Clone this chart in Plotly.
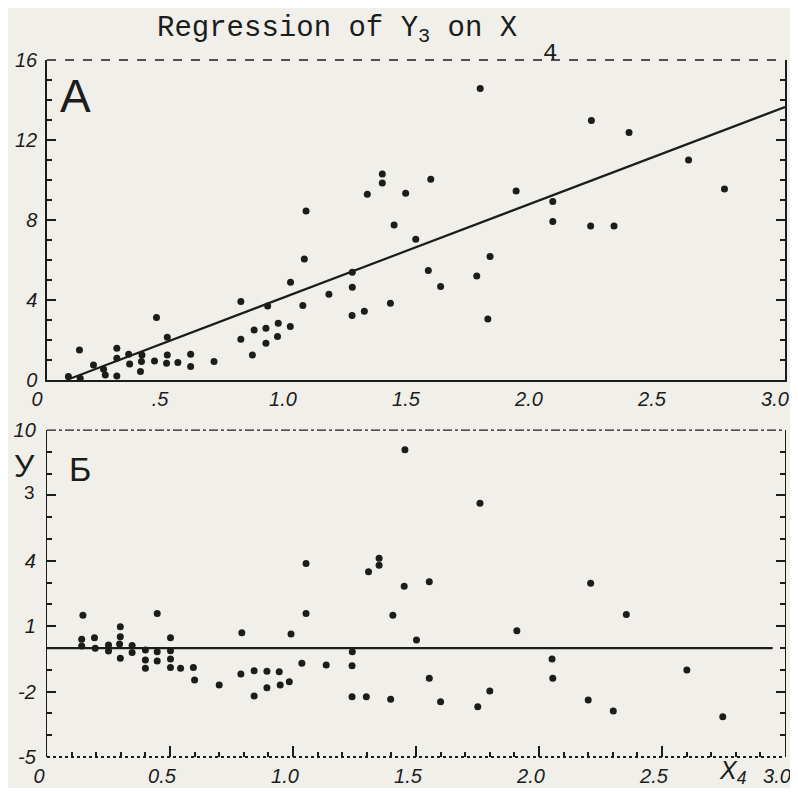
import plotly.graph_objects as go

# ---------------- data ----------------
# Panel A: Y3 vs X4 with regression line
top_x = [0.087, 0.135, 0.132, 0.189, 0.23, 0.237, 0.284, 0.284, 0.284, 0.332,
         0.336, 0.386, 0.384, 0.38, 0.437, 0.445, 0.489, 0.489, 0.486, 0.532,
         0.584, 0.584, 0.679, 0.788, 0.788, 0.835, 0.842, 0.89, 0.89, 0.897,
         0.94, 0.937, 0.989, 0.99, 1.04, 1.046, 1.053, 1.146, 1.241, 1.241,
         1.24, 1.29, 1.396, 1.302, 1.363, 1.363, 1.411, 1.458, 1.56, 1.499,
         1.55, 1.6, 1.747, 1.801, 1.792, 1.907, 1.761, 2.213, 2.366, 2.608,
         2.754, 2.056, 2.056, 2.21, 2.305]
top_y = [0.17, 0.08, 1.5, 0.75, 0.53, 0.25, 1.58, 1.08, 0.2, 1.28,
         0.8, 1.25, 0.92, 0.42, 0.95, 3.12, 2.13, 1.25, 0.83, 0.87,
         1.28, 0.67, 0.92, 3.92, 2.03, 1.25, 2.5, 2.58, 1.83, 3.7,
         2.83, 2.17, 2.67, 4.88, 3.72, 6.05, 8.45, 4.28, 5.38, 4.63,
         3.22, 3.43, 3.83, 9.28, 10.3, 9.85, 7.75, 9.33, 10.03, 7.03,
         5.47, 4.67, 5.2, 6.17, 3.05, 9.45, 14.58, 12.97, 12.38, 11.0,
         9.55, 8.92, 7.92, 7.7, 7.7]
fit_x = [0.08, 3.0]
fit_y = [0.0, 13.65]

# Panel Б: residuals vs X4
bot_x = [0.146, 0.141, 0.141, 0.193, 0.196, 0.25, 0.25, 0.298, 0.298, 0.295,
         0.298, 0.346, 0.346, 0.4, 0.4, 0.4, 0.448, 0.448, 0.448, 0.502,
         0.502, 0.502, 0.502, 0.543, 0.595, 0.6, 0.7, 0.792, 0.788, 0.842,
         0.842, 0.894, 0.894, 0.944, 0.948, 0.985, 0.992, 1.036, 1.053, 1.053,
         1.135, 1.241, 1.24, 1.24, 1.298, 1.397, 1.307, 1.35, 1.35, 1.452,
         1.554, 1.406, 1.502, 1.554, 1.6, 1.751, 1.8, 1.91, 1.76, 1.455,
         2.21, 2.355, 2.053, 2.056, 2.2, 2.302, 2.601, 2.747]
bot_y = [1.51, 0.4, 0.09, 0.47, -0.01, 0.14, -0.14, 0.98, 0.52, 0.18,
         -0.47, 0.12, -0.21, -0.09, -0.55, -0.93, 1.59, -0.17, -0.6, 0.47,
         -0.12, -0.5, -0.89, -0.93, -0.89, -1.47, -1.7, 0.7, -1.19, -1.04,
         -2.2, -1.06, -1.82, -1.09, -1.7, -1.55, 0.64, -0.7, 3.88, 1.59,
         -0.78, -0.17, -0.81, -2.23, -2.23, -2.35, 3.5, 4.12, 3.8, 2.84,
         3.04, 1.51, 0.37, -1.39, -2.46, -2.69, -1.97, 0.79, 6.64, 9.1,
         2.97, 1.54, -0.5, -1.39, -2.39, -2.89, -1.01, -3.15]
zero_x = [0.0, 2.95]
zero_y = [0.0, 0.0]

top_xtick_vals = [0, 0.5, 1.0, 1.5, 2.0, 2.5, 3.0]
top_xtick_text = ["0", ".5", "1.0", "1.5", "2.0", "2.5", "3.0"]
bot_xtick_text = ["0", "0.5", "1.0", "1.5", "2.0", "2.5", "3.0"]
top_ytick_vals = [0, 4, 8, 12, 16]
bot_ytick_vals = [-5, -2, 1, 4, 7, 10]
bot_ytick_text = ["-5", "-2", "1", "4", "", "10"]

# ---------------- style ----------------
INK = "#1c1c1c"
PAPER = "#f1efe9"
tick_font = dict(family="Liberation Sans", size=20, color=INK, style="italic")

fig = go.Figure()
fig.add_trace(go.Scatter(x=fit_x, y=fit_y, mode="lines", xaxis="x", yaxis="y",
                         line=dict(color=INK, width=2.2), showlegend=False))
fig.add_trace(go.Scatter(x=top_x, y=top_y, mode="markers", xaxis="x", yaxis="y",
                         marker=dict(color=INK, size=7), showlegend=False))
fig.add_trace(go.Scatter(x=zero_x, y=zero_y, mode="lines", xaxis="x2", yaxis="y2",
                         line=dict(color=INK, width=2.2), showlegend=False))
fig.add_trace(go.Scatter(x=bot_x, y=bot_y, mode="markers", xaxis="x2", yaxis="y2",
                         marker=dict(color=INK, size=7), showlegend=False))

# page body keeps an 8 px margin, so the figure is 16 px smaller than the window
fig.update_layout(
    width=782, height=780,
    margin=dict(l=39, r=5, t=52, b=31, autoexpand=False),
    paper_bgcolor=PAPER, plot_bgcolor=PAPER,
    showlegend=False,
    xaxis=dict(domain=[0, 1], anchor="y", range=[0, 3], showgrid=False, zeroline=False,
               automargin=False, ticklabeloverflow="allow",
               showline=True, linecolor=INK, linewidth=2, ticks="",
               tickvals=top_xtick_vals, ticktext=top_xtick_text, tickfont=tick_font,
               ticklabelshift=-10),
    xaxis3=dict(overlaying="x", anchor="y", side="top", range=[0, 3], showgrid=False,
                automargin=False,
                zeroline=False, showline=False, showticklabels=False,
                ticks="inside", tick0=0, dtick=0.1, ticklen=8, tickwidth=1.5, tickcolor=INK),
    yaxis=dict(domain=[0.541, 1], anchor="x", range=[0, 16], showgrid=False, zeroline=False,
               automargin=False, ticklabeloverflow="allow",
               showline=True, linecolor=INK, linewidth=1.5, mirror="ticks",
               ticks="inside", tickvals=top_ytick_vals, ticklen=9, tickwidth=1.5, tickcolor=INK,
               minor=dict(ticks="inside", dtick=1, ticklen=5, tickcolor=INK, showgrid=False),
               tickfont=tick_font, ticklabelstandoff=4),
    xaxis2=dict(domain=[0, 1], anchor="y2", range=[0, 3], showgrid=False, zeroline=False,
                automargin=False, ticklabeloverflow="allow",
                showline=False, ticks="inside", tickvals=top_xtick_vals, ticktext=bot_xtick_text,
                ticklen=11, tickwidth=1.5, tickcolor=INK,
                minor=dict(ticks="inside", dtick=0.1, ticklen=5, tickcolor=INK, showgrid=False),
                tickfont=tick_font, ticklabelshift=-8, ticklabelstandoff=5),
    yaxis2=dict(domain=[0, 0.469], anchor="x2", range=[-5, 10], showgrid=False, zeroline=False,
                automargin=False, ticklabeloverflow="allow",
                showline=True, linecolor=INK, linewidth=1.3, mirror="ticks",
                ticks="inside", tickvals=bot_ytick_vals, ticktext=bot_ytick_text,
                ticklen=9, tickwidth=1.5, tickcolor=INK,
                minor=dict(ticks="inside", dtick=1, ticklen=5, tickcolor=INK, showgrid=False),
                tickfont=tick_font, ticklabelstandoff=6),
    shapes=[
        dict(type="line", xref="x domain", yref="y domain", x0=0, x1=1, y0=1, y1=1,
             line=dict(color=INK, width=1.6, dash="dash")),
        dict(type="line", xref="x2 domain", yref="y2 domain", x0=0, x1=1, y0=1, y1=1,
             line=dict(color=INK, width=1.4, dash="dashdot")),
        dict(type="line", xref="x2 domain", yref="y2 domain", x0=0, x1=1, y0=0, y1=0,
             line=dict(color=INK, width=1.8, dash="dot")),
    ],
    annotations=[
        dict(text="Regression of Y<sub>3</sub> on X", xref="paper", yref="paper",
             x=0.146, y=1.043, xanchor="left", yanchor="middle", showarrow=False,
             font=dict(family="Liberation Mono", size=29, color=INK)),
        dict(text="4", xref="paper", yref="paper",
             x=0.682, y=1.009, xanchor="center", yanchor="middle", showarrow=False,
             font=dict(family="Liberation Mono", size=24, color=INK)),
        dict(text="A", xref="x", yref="y", x=0.045, y=14.2, xanchor="left", yanchor="middle",
             showarrow=False, font=dict(family="Liberation Sans", size=46, color=INK)),
        dict(text="Б", xref="x2", yref="y2", x=0.08, y=8.2, xanchor="left", yanchor="middle",
             showarrow=False, font=dict(family="Liberation Sans", size=34, color=INK)),
        dict(text="У", xref="paper", yref="paper", x=-0.03, y=0.418, xanchor="center",
             yanchor="middle", showarrow=False,
             font=dict(family="Liberation Sans", size=32, color=INK)),
        dict(text="3", xref="paper", yref="paper", x=-0.024, y=0.38, xanchor="center",
             yanchor="middle", showarrow=False,
             font=dict(family="Liberation Sans", size=19, color=INK)),
        dict(text="X<sub>4</sub>", xref="paper", yref="paper", x=0.93, y=-0.022,
             xanchor="center", yanchor="middle", showarrow=False,
             font=dict(family="Liberation Sans", size=25, color=INK, style="italic")),
    ],
)

fig.write_html("out.html")
